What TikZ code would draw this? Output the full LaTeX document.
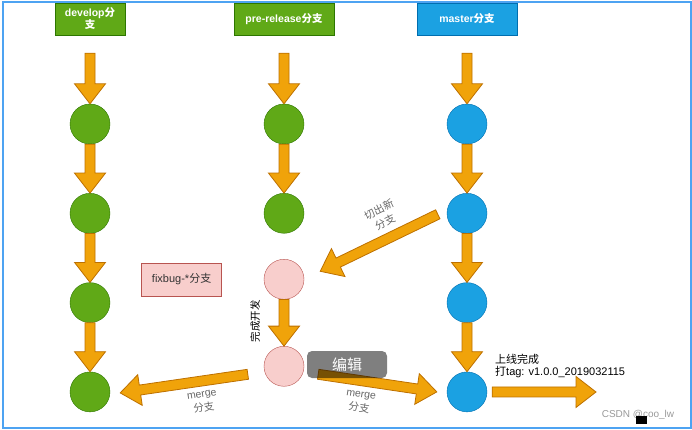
\documentclass[tikz,border=0pt]{standalone}
\usepackage{fontspec}
\setmainfont{Liberation Sans}
\newfontfamily\cjk{Noto Sans CJK SC}
\usetikzlibrary{calc,positioning}

\definecolor{devfill}{HTML}{60A917}
\definecolor{devline}{HTML}{2D7600}
\definecolor{mstfill}{HTML}{1BA1E2}
\definecolor{mstline}{HTML}{006EAF}
\definecolor{fixfill}{HTML}{F8CECC}
\definecolor{fixline}{HTML}{B85450}
\definecolor{flowfill}{HTML}{F0A30A}
\definecolor{flowline}{HTML}{BD7000}
\definecolor{framecol}{HTML}{4DA3F2}

\tikzset{
  commit/.style={draw, circle, minimum size=40pt, inner sep=0pt},
  dev/.style={commit, fill=devfill, draw=devline},
  mst/.style={commit, fill=mstfill, draw=mstline},
  fix/.style={commit, fill=fixfill, draw=fixline},
  head/.style={draw, minimum height=32pt, inner sep=1pt, align=center, text=white,
    font=\bfseries\fontsize{10.5}{12}\selectfont},
  flow/.style={draw=flowline, fill=flowfill, line width=0.8pt, line join=miter},
  lbl/.style={align=center, text=black!60, font=\fontsize{10.5}{14}\selectfont},
}

% block arrow from tail #1 to tip #2
\newcommand{\branchflow}[2]{%
  \coordinate (ft) at (#1);
  \coordinate (fp) at (#2);
  \coordinate (fh) at ($(fp)!20pt!(ft)$);
  \draw[flow] ($(ft)!5pt!90:(fp)$) -- ($(fh)!5pt!90:(fp)$) -- ($(fh)!15.5pt!90:(fp)$)
    -- (fp) -- ($(fh)!15.5pt!-90:(fp)$) -- ($(fh)!5pt!-90:(fp)$)
    -- ($(ft)!5pt!-90:(fp)$) -- cycle;
}

\begin{document}
\begin{tikzpicture}[x=1pt, y=-1pt, node distance=89.3pt]

  \useasboundingbox (0,0) rectangle (692,430);
  \draw[framecol, line width=2pt] (3,2.5) rectangle (690.5,428);

  % branch heads
  \node (d0) [head, fill=devfill, draw=devline, minimum width=70pt] at (90,19) {develop{\cjk 分}\\{\cjk 支}};
  \node (p0) [head, fill=devfill, draw=devline, minimum width=100pt] at (284,19) {pre-release{\cjk 分支}};
  \node (m0) [head, fill=mstfill, draw=mstline, minimum width=100pt] at (467,19) {master{\cjk 分支}};

  % commits
  \node (d1) [dev] at (90,124) {};
  \node (d2) [dev, below of=d1] {};
  \node (d3) [dev, below of=d2] {};
  \node (d4) [dev, below of=d3] {};
  \node (p1) [dev] at (284,124) {};
  \node (p2) [dev, below of=p1] {};
  \node (p3) [fix, node distance=66pt, below of=p2] {};
  \node (p4) [fix, node distance=87pt, below of=p3] {};
  \node (m1) [mst] at (467,124) {};
  \node (m2) [mst, below of=m1] {};
  \node (m3) [mst, below of=m2] {};
  \node (m4) [mst, below of=m3] {};

  \node (fixlbl) [draw=fixline, fill=fixfill, text=black!80, minimum width=80pt, minimum height=33pt,
    font=\fontsize{11}{12}\selectfont, left=42pt of p3] {fixbug-*{\cjk 分支}};

  \branchflow{$(d0.south)+(0,18)$}{d1.north}
  \branchflow{d1.south}{d2.north}
  \branchflow{d2.south}{d3.north}
  \branchflow{d3.south}{d4.north}
  \branchflow{$(p0.south)+(0,18)$}{p1.north}
  \branchflow{p1.south}{p2.north}
  \branchflow{p3.south}{p4.north}
  \branchflow{$(m0.south)+(0,18)$}{m1.north}
  \branchflow{m1.south}{m2.north}
  \branchflow{m2.south}{m3.north}
  \branchflow{m3.south}{m4.north}

  \branchflow{$(m2.west)+(-9,1)$}{$(p3.east)+(16,-8)$}
  \branchflow{$(p4.west)+(-16,8)$}{$(d4.east)+(10,1)$}
  \branchflow{$(p4.east)+(14,8)$}{$(m4.west)+(-10,0)$}
  \coordinate (tagged) at (596,392);
  \branchflow{$(m4.east)+(5,0)$}{tagged}

  % labels
  \node (cutlbl) [lbl, rotate=26, font=\cjk\fontsize{10.5}{14}\selectfont] at (382,216) {切出新\\分支};
  \node (leftlbl) [lbl, rotate=9] at (203,402) {merge\\{\cjk 分支}};
  \node (rightlbl) [lbl, rotate=-9] at (360,402) {merge\\{\cjk 分支}};
  \node (devdone) [rotate=90, font=\cjk\fontsize{10.5}{12}\selectfont] at (255,321) {完成开发};
  \node (release) [anchor=west, align=left, inner sep=0pt, font=\fontsize{11}{12.5}\selectfont]
    at (495,366) {{\cjk 上线完成}\\{\cjk 打}tag: v1.0.0\_2019032115};

  \node (editbtn) [fill=black, fill opacity=0.5, text opacity=1, text=white, rounded corners=5pt,
    minimum width=80pt, minimum height=27pt, font=\cjk\fontsize{15}{16}\selectfont] at (347,364.5) {编辑};
  \node (mark) [text=black!40, font=\fontsize{10}{11}\selectfont] at (638,415) {CSDN @coo\_lw};
  \fill (636,416) rectangle (647,424);

\end{tikzpicture}
\end{document}
